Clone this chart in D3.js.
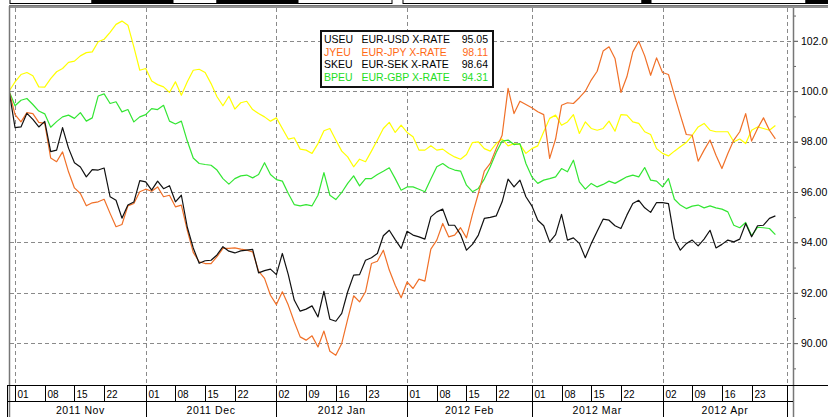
<!DOCTYPE html>
<html>
<head>
<meta charset="utf-8">
<script src="https://cdn.jsdelivr.net/npm/d3@7"></script>
<style>
  body { margin: 0; background: #fff; }
  svg { display: block; font-family: 'Liberation Sans', Arial, sans-serif; }
</style>
</head>
<body>
<svg id="chart" width="828" height="417"></svg>
<script>
// indexed x-rates, one value per trading day from 2011-10-31
const seriesIds = ['USEU', 'JYEU', 'SKEU', 'BPEU'];
const seriesNames = ['EUR-USD X-RATE', 'EUR-JPY X-RATE', 'EUR-SEK X-RATE', 'EUR-GBP X-RATE'];
const lineColors = ['#111111', '#f07028', '#ffff00', '#33e633'];
const textColors = ['#000000', '#ff6a14', '#000000', '#22dd22'];

const useu = [
  100.0, 98.55, 98.58, 99.12, 98.88, 98.58, 98.8, 97.6, 97.66, 98.55,
  97.74, 97.16, 96.99, 96.6, 96.89, 96.87, 96.95, 95.81, 95.67, 94.96,
  95.48, 95.6, 96.45, 96.4, 96.07, 96.43, 96.13, 96.25, 95.61, 95.87,
  94.6, 93.78, 93.17, 93.27, 93.29, 93.5, 93.83, 93.65, 93.58, 93.66,
  93.69, 93.72, 92.79, 92.88, 92.94, 92.72, 93.56, 92.72, 91.71, 91.27,
  91.35, 91.48, 91.04, 92.06, 90.95, 90.87, 91.18, 92.04, 92.7, 92.72,
  93.29, 93.39, 93.56, 94.26, 94.48, 94.11, 93.76, 94.44, 94.29, 94.22,
  94.13, 95.01, 95.21, 95.32, 94.68, 94.68, 94.31, 93.69, 93.92, 94.29,
  94.95, 94.99, 95.05, 95.61, 96.51, 96.2, 96.47, 95.81, 95.45, 94.88,
  94.66, 94.02, 94.31, 95.11, 94.09, 94.18, 93.96, 93.39, 93.95, 94.44,
  94.92, 94.88, 94.66, 94.55, 95.08, 95.54, 95.67, 95.37, 95.19, 95.58,
  95.58, 95.54, 94.15, 93.69, 93.95, 94.09, 93.86, 94.13, 94.48, 93.78,
  93.92, 94.09, 94.02, 94.13, 94.75, 94.22, 94.66, 94.68, 94.95, 95.05
];
const jyeu = [
  100.0, 99.07, 98.78, 99.15, 99.11, 98.76, 98.72, 97.35, 97.2, 97.59,
  96.8, 96.16, 95.94, 95.45, 95.57, 95.61, 95.71, 95.15, 94.62, 94.71,
  95.45, 95.54, 96.01, 96.11, 96.03, 96.2, 95.81, 95.87, 95.41, 95.48,
  94.48, 93.6, 93.23, 93.16, 93.16, 93.43, 93.76, 93.76, 93.78, 93.73,
  93.69, 93.62, 92.86, 92.57, 91.9, 91.53, 92.04, 91.51, 90.85, 90.25,
  90.12, 90.29, 89.85, 90.48, 89.68, 89.52, 89.99, 90.95, 91.88, 91.64,
  92.04, 93.16, 93.25, 93.69, 92.9, 92.3, 91.8, 92.43, 92.17, 92.54,
  92.46, 93.73, 94.09, 94.75, 94.22, 94.29, 94.58, 94.18, 95.11, 95.94,
  96.83, 97.13, 97.72, 98.25, 100.11, 99.11, 99.6, 99.47, 99.34, 99.18,
  99.07, 97.33, 98.1, 99.44, 99.54, 99.51, 99.74, 100.0, 100.44, 100.79,
  101.59, 101.76, 101.3, 99.95, 100.57, 101.56, 101.98, 101.4, 100.63, 101.32,
  100.74, 100.66, 99.84, 99.05, 98.28, 98.25, 97.22, 97.66, 98.06, 97.46,
  96.93, 97.53, 98.06, 98.39, 99.11, 98.02, 98.52, 98.94, 98.45, 98.11
];
const skeu = [
  100.0, 100.37, 100.66, 100.74, 100.61, 100.17, 100.16, 100.5, 100.77, 100.9,
  101.14, 101.19, 101.4, 101.53, 101.56, 101.96, 102.06, 102.33, 102.65, 102.78,
  102.62, 101.76, 100.83, 100.9, 100.4, 100.26, 100.17, 99.95, 100.37, 99.84,
  100.37, 100.83, 100.87, 100.74, 100.3, 99.78, 99.42, 99.8, 99.29, 99.54,
  99.6, 99.27, 99.11, 98.98, 98.81, 98.94, 98.52, 98.1, 98.15, 97.7,
  97.66, 97.53, 97.92, 98.43, 98.52, 98.06, 97.62, 97.39, 97.0, 97.3,
  97.2, 97.62, 98.06, 98.52, 98.76, 98.36, 98.65, 98.36, 98.19, 97.66,
  97.66, 97.83, 97.66, 97.7, 97.53, 97.39, 97.3, 97.49, 97.96, 97.99,
  97.72, 97.62, 97.92, 98.1, 97.83, 97.92, 97.88, 97.53, 97.72, 97.83,
  98.39, 98.92, 99.05, 98.65, 98.78, 99.07, 98.32, 98.78, 98.52, 98.45,
  98.52, 98.81, 98.41, 99.07, 99.05, 98.78, 98.72, 98.39, 98.28, 97.72,
  97.53, 97.43, 97.62, 97.79, 97.96, 98.25, 98.58, 98.72, 98.45, 98.39,
  98.39, 98.39, 97.99, 98.1, 97.92, 98.45, 98.58, 98.52, 98.45, 98.64
];
const bpeu = [
  100.0, 99.42, 99.64, 99.71, 99.47, 99.21, 99.1, 98.57, 98.79, 98.98,
  99.05, 98.92, 99.15, 98.81, 98.94, 99.81, 99.89, 99.51, 99.58, 99.18,
  99.27, 98.78, 98.98, 99.07, 99.31, 99.27, 99.44, 98.81, 98.7, 98.81,
  98.02, 97.35, 97.13, 97.09, 97.06, 96.87, 96.53, 96.31, 96.53, 96.64,
  96.67, 96.56, 96.69, 97.16, 96.69, 96.49, 96.43, 95.94, 95.5, 95.45,
  95.5, 95.45, 95.87, 96.77, 95.87, 95.7, 95.98, 96.34, 96.64, 96.24,
  96.53, 96.53, 96.69, 96.82, 96.96, 96.53, 96.07, 96.2, 96.2, 96.11,
  96.01, 96.51, 97.0, 97.13, 96.96, 96.87, 96.83, 96.27, 96.01, 96.14,
  96.51, 97.0, 97.57, 98.02, 98.06, 97.88, 97.92, 97.13, 96.6, 96.34,
  96.47, 96.53, 96.6, 96.93, 96.8, 97.26, 96.4, 96.11, 96.34, 96.2,
  96.3, 96.43, 96.34, 96.47, 96.6, 96.67, 96.6, 96.97, 96.47, 96.43,
  96.2, 96.53, 95.71, 95.48, 95.34, 95.44, 95.48, 95.37, 95.45, 95.37,
  95.32, 95.21, 94.68, 94.58, 94.79, 94.26, 94.6, 94.58, 94.55, 94.31
];
const seriesValues = [useu, jyeu, skeu, bpeu];

const weekTicks = [
  '2011-11-01', '2011-11-08', '2011-11-15', '2011-11-22',
  '2011-12-01', '2011-12-08', '2011-12-15', '2011-12-22',
  '2012-01-02', '2012-01-09', '2012-01-16', '2012-01-23',
  '2012-02-01', '2012-02-08', '2012-02-15', '2012-02-22',
  '2012-03-01', '2012-03-08', '2012-03-15', '2012-03-22',
  '2012-04-02', '2012-04-09', '2012-04-16', '2012-04-23'
];
const monthStarts = ['2011-11-01', '2011-12-01', '2012-01-02', '2012-02-01', '2012-03-01', '2012-04-02', '2012-05-01'];
const monthLabels = ['2011 Nov', '2011 Dec', '2012 Jan', '2012 Feb', '2012 Mar', '2012 Apr'];
const yTicks = [90, 92, 94, 96, 98, 100, 102];
const yMinorTicks = [89, 91, 93, 95, 97, 99, 101, 103];

// weekdays only, Oct 31 to May 2
const fmt = d3.timeFormat('%Y-%m-%d');
const dayKeys = d3
  .timeDays(new Date(2011, 9, 31), new Date(2012, 4, 3))
  .filter((d) => d.getDay() % 6 !== 0)
  .map(fmt);

const PLOT = { left: 10, right: 793, top: 7, bottom: 385 };
const BAND = { day: 386, month: 402, end: 417 };

const x = d3.scaleLinear().domain([0, dayKeys.length - 1]).range([9.1, 793.2]);
const y = d3.scaleLinear().domain([88.34, 103.3]).range([PLOT.bottom, 8]);
const xOf = (key) => x(dayKeys.indexOf(key));

const svg = d3.select('#chart');

// cut-off strip of the panel above
const strip = [[10, 92, '#fff'], [92, 173, '#000'], [173, 217, '#fff'], [217, 298, '#000'],
  [298, 392, '#fff'], [403, 642, '#fff'], [642, 651, '#000'], [651, 806, '#fff'], [806, 828, '#000']];
svg
  .selectAll('.strip')
  .data(strip)
  .enter()
  .append('rect')
  .attr('x', (d) => d[0])
  .attr('y', -1)
  .attr('width', (d) => d[1] - d[0])
  .attr('height', 4.5)
  .attr('fill', (d) => d[2])
  .attr('stroke', '#000')
  .attr('stroke-width', 1);

svg.append('line').attr('x1', 9).attr('x2', 828).attr('y1', 5.5).attr('y2', 5.5)
  .attr('stroke', '#777').attr('stroke-width', 1);
svg.append('line').attr('x1', 9).attr('x2', 828).attr('y1', 7).attr('y2', 7)
  .attr('stroke', '#222').attr('stroke-width', 1);

// grid
const grid = svg.append('g').attr('stroke', '#8a8a8a').attr('stroke-dasharray', '4,3').attr('stroke-width', 1);
grid
  .selectAll('.hgrid')
  .data(yTicks)
  .enter()
  .append('line')
  .attr('x1', PLOT.left)
  .attr('x2', 798)
  .attr('y1', (d) => Math.round(y(d)) + 0.5)
  .attr('y2', (d) => Math.round(y(d)) + 0.5);
grid
  .selectAll('.vgrid')
  .data(monthStarts)
  .enter()
  .append('line')
  .attr('x1', (d) => Math.round(xOf(d)) + 0.5)
  .attr('x2', (d) => Math.round(xOf(d)) + 0.5)
  .attr('y1', 8)
  .attr('y2', PLOT.bottom);

// lines
svg.append('clipPath').attr('id', 'plotClip').append('rect')
  .attr('x', PLOT.left).attr('y', PLOT.top).attr('width', PLOT.right - PLOT.left).attr('height', PLOT.bottom - PLOT.top);

const line = d3.line().x((d, i) => x(i)).y((d) => y(d));
const drawOrder = [2, 3, 1, 0];
svg
  .append('g')
  .attr('clip-path', 'url(#plotClip)')
  .selectAll('.series')
  .data(drawOrder)
  .enter()
  .append('path')
  .attr('fill', 'none')
  .attr('stroke', (k) => lineColors[k])
  .attr('stroke-width', 1.2)
  .attr('stroke-linejoin', 'round')
  .attr('d', (k) => line(seriesValues[k]));

// right axis
const yAxis = svg
  .append('g')
  .attr('transform', `translate(${PLOT.right},0)`)
  .call(d3.axisRight(y).tickValues(yTicks).tickFormat(d3.format('.2f')).tickSize(5).tickPadding(3));
yAxis.select('.domain').remove();
yAxis.selectAll('line').attr('stroke', '#666');
yAxis.selectAll('text').style('font-size', '10.5px').style('font-family', "'Liberation Sans', Arial, sans-serif").attr('fill', '#000');

const yMinor = svg
  .append('g')
  .attr('transform', `translate(${PLOT.right},0)`)
  .call(d3.axisRight(y).tickValues(yMinorTicks).tickFormat('').tickSize(3));
yMinor.select('.domain').remove();
yMinor.selectAll('line').attr('stroke', '#666');

svg.append('line').attr('x1', PLOT.right + 0.5).attr('x2', PLOT.right + 0.5).attr('y1', 8).attr('y2', BAND.end)
  .attr('stroke', '#777').attr('stroke-width', 1.5);
svg.append('line').attr('x1', 9.5).attr('x2', 9.5).attr('y1', 6).attr('y2', BAND.end)
  .attr('stroke', '#777').attr('stroke-width', 1.5);
svg.append('line').attr('x1', 7.5).attr('x2', 7.5).attr('y1', BAND.day).attr('y2', BAND.end)
  .attr('stroke', '#000').attr('stroke-width', 1);

// bottom date band
const band = svg.append('g').attr('stroke', '#000').attr('stroke-width', 1);
band.append('line').attr('x1', 7).attr('x2', 828).attr('y1', BAND.day - 0.5).attr('y2', BAND.day - 0.5);
band.append('line').attr('x1', 7).attr('x2', PLOT.right).attr('y1', BAND.month - 0.5).attr('y2', BAND.month - 0.5);
band
  .selectAll('.week')
  .data(weekTicks)
  .enter()
  .append('line')
  .attr('x1', (d) => Math.round(xOf(d)) + 0.5)
  .attr('x2', (d) => Math.round(xOf(d)) + 0.5)
  .attr('y1', BAND.day)
  .attr('y2', BAND.month);
band
  .selectAll('.month')
  .data(monthStarts.slice(1))
  .enter()
  .append('line')
  .attr('x1', (d) => Math.round(xOf(d)) + 0.5)
  .attr('x2', (d) => Math.round(xOf(d)) + 0.5)
  .attr('y1', BAND.day)
  .attr('y2', BAND.end);

svg
  .selectAll('.dayLabel')
  .data(weekTicks)
  .enter()
  .append('text')
  .attr('x', (d) => Math.round(xOf(d)) + 2.5)
  .attr('y', 398)
  .style('font-size', '10px')
  .attr('fill', '#000')
  .text((d) => d.slice(8));

svg
  .selectAll('.monthLabel')
  .data(monthLabels)
  .enter()
  .append('text')
  .attr('x', (d, i) => (xOf(monthStarts[i]) + xOf(monthStarts[i + 1])) / 2)
  .attr('y', 414)
  .attr('text-anchor', 'middle')
  .style('font-size', '10.5px')
  .style('letter-spacing', '0.6px')
  .attr('fill', '#000')
  .text((d) => d);

// legend
const legend = svg.append('g').attr('transform', 'translate(321,31)');
legend.append('rect').attr('width', 172).attr('height', 56).attr('fill', '#fff')
  .attr('stroke', '#111').attr('stroke-width', 2);
const rows = legend
  .selectAll('.row')
  .data(seriesIds)
  .enter()
  .append('g')
  .attr('transform', (d, i) => `translate(0, ${11.8 + i * 12.8})`)
  .style('font-size', '10.5px')
  .attr('fill', (d, i) => textColors[i]);
rows.append('text').attr('x', 3).text((d) => d);
rows.append('text').attr('x', 40.5).text((d, i) => seriesNames[i]);
rows.append('text').attr('x', 167).attr('text-anchor', 'end')
  .text((d, i) => seriesValues[i][seriesValues[i].length - 1].toFixed(2));
</script>
</body>
</html>
